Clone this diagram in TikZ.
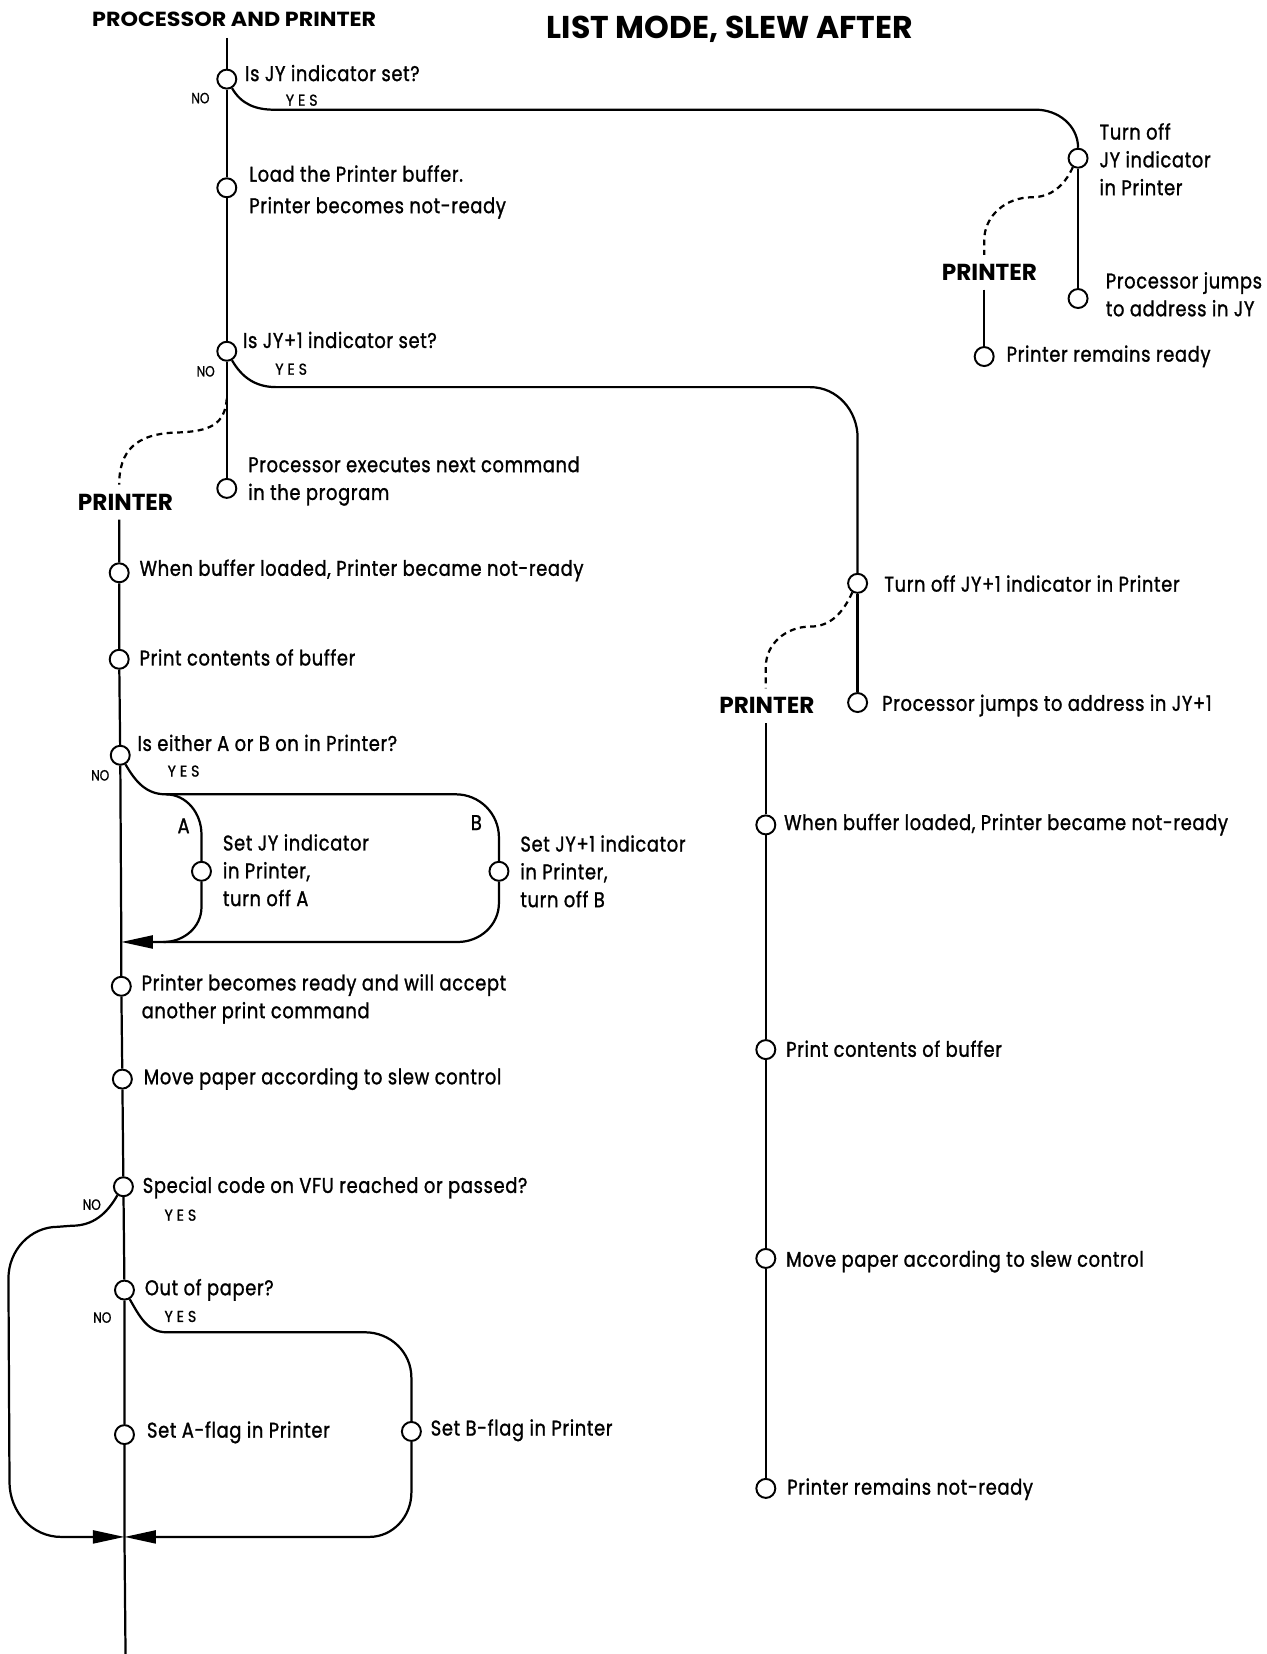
\documentclass[tikz,border=0pt]{standalone}
\usepackage{fontspec}
\newfontfamily\fut[FakeStretch=0.84,LetterSpace=3,FakeBold=1.2]{Poppins}
\newfontfamily\futh{Poppins}
\newfontfamily\futw[FakeStretch=1.09]{Poppins}
\newfontfamily\futn[FakeStretch=0.82,FakeBold=1]{Poppins}
\newfontfamily\futy[FakeStretch=0.9,LetterSpace=25,FakeBold=1]{Poppins}
\usetikzlibrary{arrows.meta}
\tikzset{
  ln/.style={line width=1.2pt},
  dsh/.style={line width=1.2pt, dash pattern=on 3.2pt off 2.4pt},
  pt/.style={circle, draw, line width=1.05pt, fill=white, minimum size=0.36cm, inner sep=0pt},
  lbl/.style={anchor=west, inner sep=0pt, font=\fut\fontsize{11.5}{15}\selectfont, text height=1.55ex, text depth=0pt},
  lbls/.style={anchor=west, inner sep=0pt, align=left, font=\fut\fontsize{11.5}{15}\selectfont},
  nolbl/.style={inner sep=0pt, font=\futn\fontsize{8}{9}\selectfont},
  yeslbl/.style={inner sep=0pt, font=\futy\fontsize{8.5}{9}\selectfont},
  pr/.style={inner sep=0pt, outer sep=5pt, font=\futh\bfseries\fontsize{12.5}{14}\selectfont},
  hdr/.style={inner sep=0pt, font=\futw\bfseries\fontsize{11}{12}\selectfont},
  ttl/.style={inner sep=0pt, font=\futh\bfseries\fontsize{17}{19}\selectfont},
  tip/.style={-{Triangle[length=17pt,width=7pt]}}
}
\begin{document}
\begin{tikzpicture}[x=0.02cm,y=-0.02cm]
\useasboundingbox[fill=white] (0,0) rectangle (1201,1568);

% headers
\node[hdr] (hA) at (222,18) {PROCESSOR AND PRINTER};
\node[ttl] (hT) at (692,28) {LIST MODE, SLEW AFTER};

% ---------- main column ----------
\coordinate (top) at (215,36);
\coordinate (d3) at (215,378);
\node[pt] (c1) at (215,75) {};
\node[pt] (c2) at (215,178) {};
\node[pt] (c3) at (215,333) {};
\node[pt] (c4) at (215,463) {};
\draw[ln] (top) -- (c1) -- (c2) -- (c3) -- (d3) -- (c4);

\node[lbl] (t1) at (232,71) {Is JY indicator set?};
\node[nolbl] (n1) at (190,93) {NO};
\node[yeslbl] (y1) at (286,95) {YES};
\node[lbls] (t2) at (236,182) {Load the Printer buffer.\\[2pt]Printer becomes not-ready};
\node[lbl] (t3) at (230,324) {Is JY+1 indicator set?};
\node[nolbl] (n3) at (195,352) {NO};
\node[yeslbl] (y3) at (276,350) {YES};
\node[lbls] (t4) at (235,456) {Processor executes next command\\in the program};

% ---------- JY branch (top right) ----------
\node[pt] (c5) at (1022,150) {};
\node[pt] (c6) at (1022,283) {};
\node[pr] (p1) at (938,258) {PRINTER};
\node[pt] (c7) at (933,338) {};
\draw[ln] (c1.-60) to[out=-60,in=180] (260,104) -- (982,104) to[out=0,in=90] (c5);
\draw[ln] (c5) -- (c6);
\draw[dsh] (c5.-120) to[out=-115,in=0] (978,187) to[out=180,in=90] (933,228) -- (c7 |- p1.north);
\draw[ln] (c7 |- p1.south) -- (c7);
\node[lbls] (t5) at (1042,151) {Turn off\\JY indicator\\in Printer};
\node[lbls] (t6) at (1048,279) {Processor jumps\\to address in JY};
\node[lbl] (t7) at (954,337) {Printer remains ready};

% ---------- JY+1 branch (right) ----------
\node[pt] (c8) at (813,553) {};
\node[pt] (c9) at (813,666) {};
\node[pr] (p2) at (727,669) {PRINTER};
\node[pt] (c10) at (726,782) {};
\node[pt] (c11) at (726,995) {};
\node[pt] (c12) at (726,1193) {};
\node[pt] (c13) at (726,1411) {};
\draw[ln] (c3.-60) to[out=-60,in=180] (262,367) -- (768,367) to[out=0,in=90] (813,415) -- (c8);
\draw[ln] (c8) -- (c9);
\draw[dsh] (c8.-120) to[out=-115,in=0] (768,594) to[out=180,in=90] (726,632) -- (c10 |- p2.north);
\draw[ln] (c10 |- p2.south) -- (c10) -- (c11) -- (c12) -- (c13);
\node[lbl] (t8) at (838,555) {Turn off JY+1 indicator in Printer};
\node[lbl] (t9) at (836,668) {Processor jumps to address in JY+1};
\node[lbl] (t10) at (743,781) {When buffer loaded, Printer became not-ready};
\node[lbl] (t11) at (745,996) {Print contents of buffer};
\node[lbl] (t12) at (745,1195) {Move paper according to slew control};
\node[lbl] (t13) at (746,1411) {Printer remains not-ready};

% ---------- left printer column ----------
\node[pr] (pL) at (119,476) {PRINTER};
\node[pt] (cL1) at (113,543) {};
\node[pt] (cL2) at (113,625) {};
\node[pt] (cL3) at (114,716) {};
\coordinate (m1) at (115,893);
\node[pt] (cL4) at (115,935) {};
\node[pt] (cL5) at (116,1023) {};
\node[pt] (cL6) at (117,1125) {};
\node[pt] (cL7) at (118,1223) {};
\node[pt] (cL8) at (118,1360) {};
\coordinate (m2) at (118,1457);
\coordinate (bot) at (119,1568);
\draw[dsh] (d3) .. controls (213,402) and (200,409) .. (168,410) .. controls (128,411) and (113,428) .. (cL1 |- pL.north);
\draw[ln] (cL1 |- pL.south) -- (cL1) -- (cL2) -- (cL3) -- (m1) -- (cL4) -- (cL5) -- (cL6) -- (cL7) -- (cL8) -- (m2) -- (bot);

\node[lbl] (u1) at (132,540) {When buffer loaded, Printer became not-ready};
\node[lbl] (u2) at (132,625) {Print contents of buffer};
\node[lbl] (u3) at (130,706) {Is either A or B on in Printer?};
\node[nolbl] (n5) at (95,735) {NO};
\node[yeslbl] (y5) at (174,731) {YES};

% A / B loop
\node[pt] (cA) at (191,826) {};
\node[pt] (cB) at (473,826) {};
\draw[ln] (cL3.-60) to[out=-60,in=180] (157,753) -- (432,753) to[out=0,in=90] (473,794) -- (cB);
\draw[ln] (157,753) to[out=0,in=90] (191,791) -- (cA);
\draw[ln] (cA) -- (191,860) to[out=-90,in=0] (155,893);
\draw[ln,tip] (cB) -- (473,856) to[out=-90,in=0] (434,893) -- (m1);
\node[lbl] (la) at (168,784) {A};
\node[lbl] (lb) at (446,781) {B};
\node[lbls] (uA) at (211,825) {Set JY indicator\\in Printer,\\turn off A};
\node[lbls] (uB) at (493,826) {Set JY+1 indicator\\in Printer,\\turn off B};

\node[lbls] (u4) at (134,947) {Printer becomes ready and will accept\\another print command};
\node[lbl] (u5) at (136,1022) {Move paper according to slew control};
\node[lbl] (u6) at (135,1125) {Special code on VFU reached or passed?};
\node[nolbl] (n6) at (87,1142) {NO};
\node[yeslbl] (y6) at (171,1152) {YES};
\node[lbl] (u7) at (137,1222) {Out of paper?};
\node[nolbl] (n7) at (97,1249) {NO};
\node[yeslbl] (y7) at (171,1248) {YES};
\node[lbl] (u8) at (139,1357) {Set A-flag in Printer};

% VFU NO loop
\draw[ln,tip] (cL6.-125) to[out=-120,in=0] (68,1162) -- (55,1163) to[out=180,in=90] (8,1212) -- (9,1405) to[out=-90,in=180] (58,1457) -- (m2);

% out of paper YES loop
\node[pt] (cB2) at (390,1357) {};
\draw[ln] (cL7.-60) to[out=-60,in=180] (158,1263) -- (346,1263) to[out=0,in=90] (390,1306) -- (cB2);
\draw[ln,tip] (cB2) -- (390,1415) to[out=-90,in=0] (350,1457) -- (m2);
\node[lbl] (u9) at (408,1355) {Set B-flag in Printer};
\end{tikzpicture}
\end{document}
